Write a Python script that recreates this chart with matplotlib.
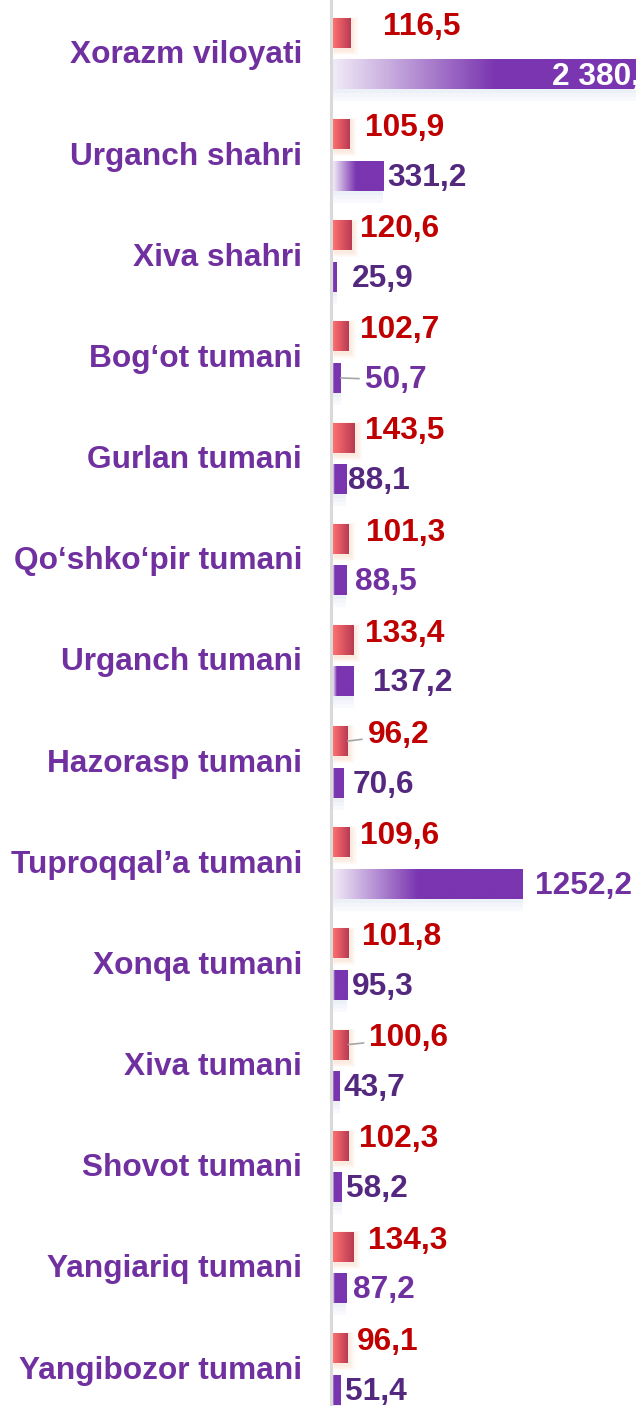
import numpy as np
import matplotlib.pyplot as plt
from matplotlib.colors import LinearSegmentedColormap
from matplotlib.patches import Rectangle

plt.rcParams['font.family'] = ['Liberation Sans', 'DejaVu Sans']

# tumanlar (shaharlar) kesimida
categories = ['Xorazm viloyati', 'Urganch shahri', 'Xiva shahri', 'Bog‘ot tumani',
              'Gurlan tumani', 'Qo‘shko‘pir tumani', 'Urganch tumani', 'Hazorasp tumani',
              'Tuproqqal’a tumani', 'Xonqa tumani', 'Xiva tumani', 'Shovot tumani',
              'Yangiariq tumani', 'Yangibozor tumani']
growth = [116.5, 105.9, 120.6, 102.7, 143.5, 101.3, 133.4, 96.2, 109.6, 101.8,
          100.6, 102.3, 134.3, 96.1]
volume = [2380.0, 331.2, 25.9, 50.7, 88.1, 88.5, 137.2, 70.6, 1252.2, 95.3,
          43.7, 58.2, 87.2, 51.4]

# label placement (pixels right of the bar end)
growth_dx = [32, 16, 9, 11, 10, 18, 12, 20, 10, 14, 21, 11, 15, 9]
volume_dx = [-36, 4, 15, 24, 1.5, 9, 19, 9, 12, 4, 4, 4, 7, 4]
growth_leader = {7, 10}
volume_leader = {3}
volume_bright = {3, 5, 8, 12}

W, H, DPI = 636, 1406, 100
AX_LEFT = 333
XMAX = 2000
ROW = 101.2
Y_TOP = -52 / ROW
Y_BOT = 13 + (H - 1367) / ROW
FS = 22.8

RED_TXT = '#c00000'
PURPLE = '#7a35b0'
PURPLE_TXT = '#54287f'
PURPLE_LBL = '#7030a0'

red_cmap = LinearSegmentedColormap.from_list('red', ['#ff7070', '#b83a52'])
purple_cmap = LinearSegmentedColormap.from_list('purple', ['#f1ebf7', PURPLE])


def fmt(v, group=False):
    s = f'{v:,.1f}' if group else f'{v:.1f}'
    return s.replace(',', ' ').replace('.', ',')


fig = plt.figure(figsize=(W / DPI, H / DPI), dpi=DPI)
ax = fig.add_axes([AX_LEFT / W, 0, 1 - AX_LEFT / W, 1])

ux = XMAX / (W - AX_LEFT)   # data units per pixel along x
uy = 1 / ROW                # rows per pixel along y

y = np.arange(len(categories))
h = 30 * uy
y_red = y - 19 * uy
y_pur = y + 22.5 * uy

ramp = np.linspace(0, 1, 512)

# soft glow behind the growth bars
for yr, g in zip(y_red, growth):
    for k in range(1, 6):
        ax.add_patch(Rectangle((-k * 0.3 * ux + 1.5 * ux, yr - h / 2 - k * 0.6 * uy + 2 * uy),
                               g + k * 1.4 * ux, h + k * 1.6 * uy,
                               facecolor='#f7b98f', edgecolor='none', alpha=0.06, zorder=1))

# faint reflection under the volume bars
for yp, v in zip(y_pur, volume):
    for k, c in enumerate(['#ecf0f7', '#f3f5fa', '#f8f9fc']):
        ax.add_patch(Rectangle((0, yp + h / 2 + k * 4 * uy), v, 4 * uy,
                               facecolor=c, edgecolor='none', zorder=1))

red_bars = ax.barh(y_red, growth, height=h, color='none', zorder=2)
pur_bars = ax.barh(y_pur, volume, height=h, color='none', zorder=2)

for b in red_bars:
    x0, y0, bw, bh = b.get_x(), b.get_y(), b.get_width(), b.get_height()
    im = ax.imshow(ramp.reshape(1, -1), cmap=red_cmap, aspect='auto',
                   interpolation='bilinear', extent=[x0, x0 + bw, y0 + bh, y0], zorder=2)
    im.set_clip_path(b)

# purple fill fades in over the left part of each bar (shorter on narrow bars)
for b in pur_bars:
    x0, y0, bw, bh = b.get_x(), b.get_y(), b.get_width(), b.get_height()
    frac = 0.45 * min(1.0, bw / ux / 50)
    vals = np.clip(ramp / frac, 0, 1)
    im = ax.imshow(vals.reshape(1, -1), cmap=purple_cmap, vmin=0, vmax=1, aspect='auto',
                   interpolation='bilinear', extent=[x0, x0 + bw, y0 + bh, y0], zorder=2)
    im.set_clip_path(b)

for i, (yr, g) in enumerate(zip(y_red, growth)):
    kw = {}
    if i in growth_leader:
        kw['arrowprops'] = dict(arrowstyle='-', color='#a6a6a6', lw=1.2,
                                shrinkA=2, shrinkB=0)
    ax.annotate(fmt(g), xy=(g, yr), xytext=(growth_dx[i] * 0.72, 4.5),
                textcoords='offset points', ha='left', va='center',
                fontsize=FS, fontweight='bold', color=RED_TXT,
                annotation_clip=False, zorder=4, **kw)

for i, (yp, v) in enumerate(zip(y_pur, volume)):
    kw = {}
    if i in volume_leader:
        kw['arrowprops'] = dict(arrowstyle='-', color='#a6a6a6', lw=1.2,
                                shrinkA=2, shrinkB=0)
    inside = volume_dx[i] < 0
    col = 'white' if inside else (PURPLE_LBL if i in volume_bright else PURPLE_TXT)
    ax.annotate(fmt(v, group=(i == 0)), xy=(v, yp), xytext=(volume_dx[i] * 0.72, -1.5),
                textcoords='offset points', ha='right' if inside else 'left',
                va='center', fontsize=FS, fontweight='bold', color=col,
                annotation_clip=False, zorder=4, **kw)

# category names to the left of the axis line
for yi, cat in zip(y, categories):
    ax.annotate(cat, xy=(0, yi), xycoords=('axes fraction', 'data'),
                xytext=(-31 * 0.72, 0), textcoords='offset points',
                ha='right', va='center_baseline', fontsize=FS, fontweight='bold',
                color=PURPLE_LBL, annotation_clip=False)

ax.set_yticks([])
ax.set_xticks([])

for s in ['top', 'right', 'bottom']:
    ax.spines[s].set_visible(False)
ax.spines['left'].set_color('#d9d9d9')
ax.spines['left'].set_linewidth(2.2)
ax.spines['left'].set_position(('outward', 1.5))

ax.set_xlim(0, XMAX)
ax.set_ylim(Y_BOT, Y_TOP)

fig.savefig('out.png', dpi=DPI, facecolor='white')
